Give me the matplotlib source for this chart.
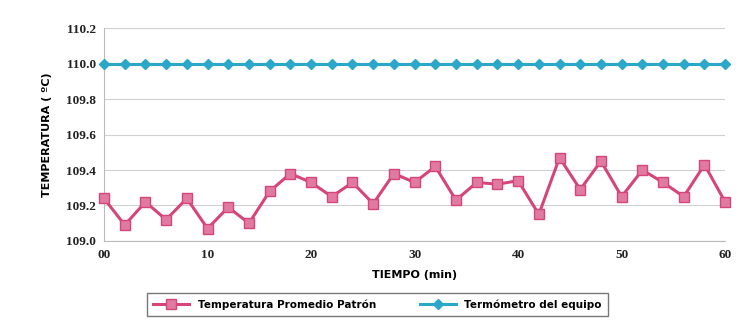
import matplotlib.pyplot as plt

tiempo = list(range(0, 61, 2))
patron = [109.24, 109.09, 109.22, 109.12, 109.24, 109.07, 109.19, 109.10,
          109.28, 109.38, 109.33, 109.25, 109.33, 109.21, 109.38, 109.33,
          109.42, 109.23, 109.33, 109.32, 109.34, 109.15, 109.47, 109.29,
          109.45, 109.25, 109.40, 109.33, 109.25, 109.43, 109.22]
equipo = [110.0] * len(tiempo)

fig = plt.figure(figsize=(7.43, 3.31), dpi=100)
ax = fig.add_axes([0.140, 0.272, 0.836, 0.643])

ax.plot(tiempo, patron, color='#d6457a', lw=2.2, marker='s', ms=7.5,
        mfc='#e07aa0', mec='#d6457a', label='Temperatura Promedio Patrón',
        clip_on=False, zorder=3)
ax.plot(tiempo, equipo, color='#2aa7c9', lw=2.2, marker='D', ms=5.5,
        mfc='#2aa7c9', mec='#2aa7c9', label='Termómetro del equipo',
        clip_on=False, zorder=3)

ax.set_xlim(0, 60)
ax.set_ylim(109.0, 110.2)
ax.set_xticks([0, 10, 20, 30, 40, 50, 60])
ax.set_xticklabels(['00', '10', '20', '30', '40', '50', '60'])
ax.set_yticks([109.0, 109.2, 109.4, 109.6, 109.8, 110.0, 110.2])
ax.set_yticklabels(['109.0', '109.2', '109.4', '109.6', '109.8', '110.0', '110.2'])
for lbl in ax.get_xticklabels() + ax.get_yticklabels():
    lbl.set_family('Liberation Serif')
    lbl.set_fontweight('bold')
    lbl.set_fontsize(9.5)
    lbl.set_color('#222222')

ax.grid(axis='y', color='#d0d0d0', lw=0.8)
ax.tick_params(length=0, pad=6)
for s in ['top', 'right']:
    ax.spines[s].set_visible(False)
ax.spines['left'].set_color('#bbbbbb')
ax.spines['bottom'].set_color('#bbbbbb')

ax.set_xlabel('TIEMPO (min)', fontsize=8, fontweight='bold', labelpad=6)
ax.set_ylabel('TEMPERATURA ( ºC)', fontsize=8, fontweight='bold', labelpad=10)

leg = ax.legend(loc='upper center', bbox_to_anchor=(0.44, -0.22), ncol=2,
                frameon=True, fancybox=False, fontsize=7.5, handlelength=3.5,
                columnspacing=4.2, borderpad=0.6)
leg.get_frame().set_edgecolor('#555555')
for t in leg.get_texts():
    t.set_fontweight('bold')

plt.savefig('out.png', dpi=100)
